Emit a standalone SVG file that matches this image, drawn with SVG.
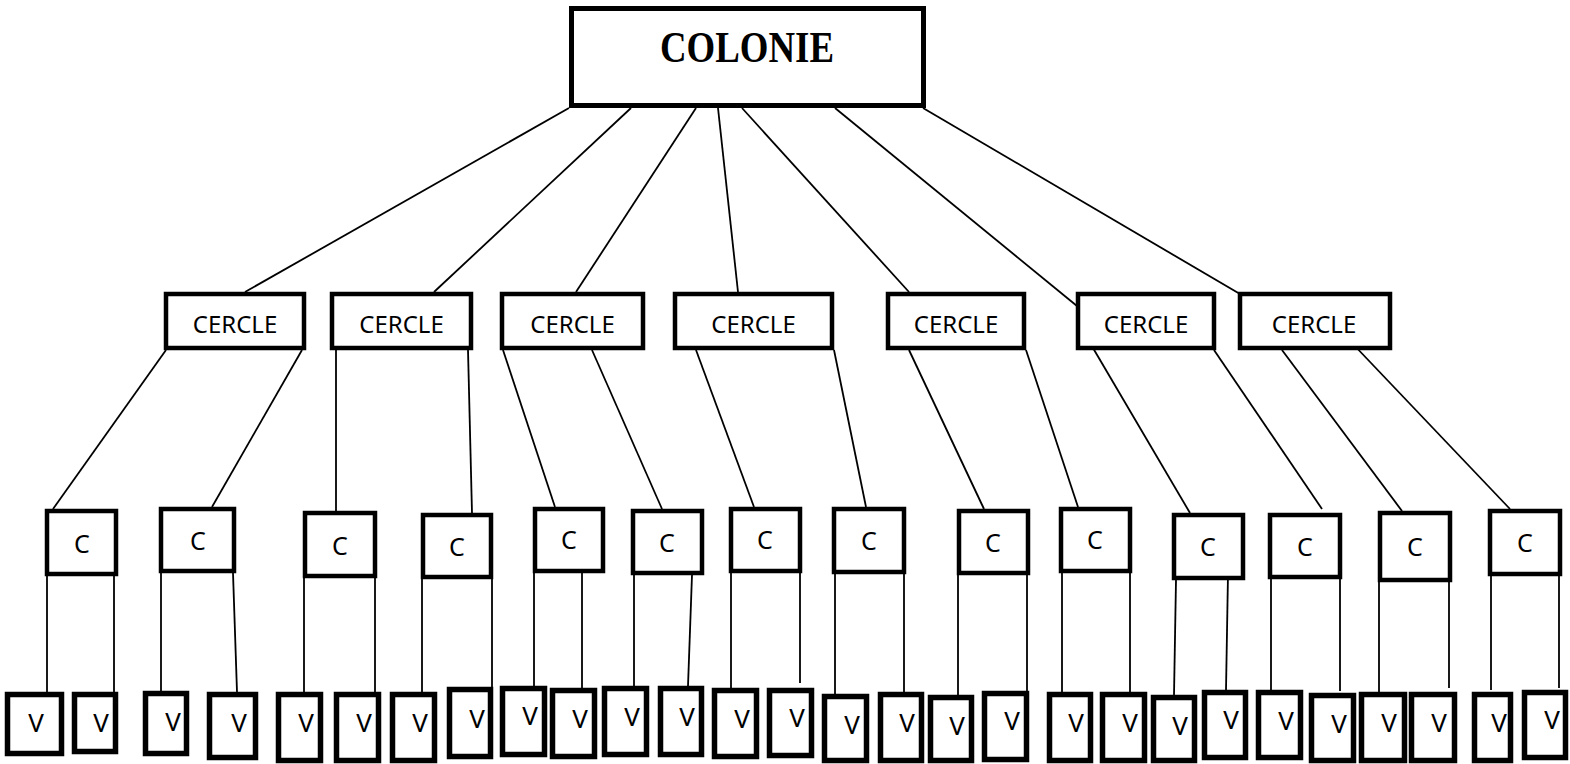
<svg xmlns="http://www.w3.org/2000/svg" width="1570" height="764" viewBox="0 0 1570 764">
<style>
.b{fill:#fff;stroke:#000;stroke-width:4.5}
.vb{fill:#fff;stroke:#000;stroke-width:5.5}
.top{fill:#fff;stroke:#000;stroke-width:5}
.ln{stroke:#000;stroke-width:1.8;fill:none}
.t{font-family:"Noto Sans","Liberation Sans",sans-serif;fill:#000}
.ce{font-size:24px;text-anchor:middle}
.c{font-size:25px;text-anchor:middle}
.v{font-size:26px;text-anchor:middle}
.h{font-family:"Liberation Serif","DejaVu Serif",serif;font-weight:bold;font-size:45px;text-anchor:middle}
</style>
<rect width="1570" height="764" fill="#fff"/>
<g id="connectors" class="ln">
<line x1="569" y1="108" x2="245" y2="292"/>
<line x1="631" y1="108" x2="434" y2="292"/>
<line x1="696" y1="108" x2="576" y2="292"/>
<line x1="718" y1="108" x2="738" y2="292"/>
<line x1="742" y1="108" x2="909" y2="292"/>
<line x1="835" y1="108" x2="1077" y2="306"/>
<line x1="923" y1="108" x2="1240" y2="294"/>
<line x1="166" y1="350" x2="53" y2="509"/>
<line x1="302" y1="350" x2="212" y2="507"/>
<line x1="336" y1="350" x2="336" y2="511"/>
<line x1="468" y1="350" x2="472" y2="513"/>
<line x1="503" y1="350" x2="555" y2="507"/>
<line x1="592" y1="350" x2="662" y2="509"/>
<line x1="696" y1="350" x2="754" y2="507"/>
<line x1="834" y1="350" x2="866" y2="507"/>
<line x1="909" y1="350" x2="984" y2="509"/>
<line x1="1026" y1="350" x2="1078" y2="507"/>
<line x1="1093" y1="348" x2="1190" y2="513"/>
<line x1="1214" y1="350" x2="1322" y2="509"/>
<line x1="1282" y1="350" x2="1402" y2="511"/>
<line x1="1352" y1="343" x2="1510" y2="509"/>
<line x1="47" y1="576" x2="47" y2="692"/>
<line x1="114" y1="576" x2="114" y2="692"/>
<line x1="161" y1="573" x2="161" y2="691"/>
<line x1="233" y1="573" x2="237" y2="692"/>
<line x1="304" y1="578" x2="304" y2="692"/>
<line x1="375" y1="578" x2="375" y2="692"/>
<line x1="422" y1="579" x2="422" y2="692"/>
<line x1="492" y1="579" x2="492" y2="687"/>
<line x1="534" y1="573" x2="534" y2="686"/>
<line x1="582" y1="573" x2="582" y2="688"/>
<line x1="634" y1="575" x2="634" y2="686"/>
<line x1="692" y1="575" x2="688" y2="686"/>
<line x1="731" y1="573" x2="731" y2="688"/>
<line x1="800" y1="573" x2="800" y2="683"/>
<line x1="835" y1="574" x2="835" y2="694"/>
<line x1="904" y1="574" x2="904" y2="692"/>
<line x1="958" y1="575" x2="958" y2="695"/>
<line x1="1027" y1="575" x2="1027" y2="691"/>
<line x1="1062" y1="573" x2="1062" y2="692"/>
<line x1="1130" y1="573" x2="1130" y2="692"/>
<line x1="1176" y1="580" x2="1174" y2="695"/>
<line x1="1228" y1="574" x2="1226" y2="690"/>
<line x1="1271" y1="579" x2="1271" y2="690"/>
<line x1="1340" y1="579" x2="1340" y2="691"/>
<line x1="1379" y1="582" x2="1379" y2="692"/>
<line x1="1449" y1="582" x2="1449" y2="688"/>
<line x1="1491" y1="576" x2="1491" y2="690"/>
<line x1="1559" y1="576" x2="1559" y2="688"/>
</g>
<g id="colonie"><rect class="top" x="571.5" y="8.5" width="352" height="97"/><text class="h" x="747" y="62" textLength="174" lengthAdjust="spacingAndGlyphs">COLONIE</text></g>
<g id="cercle1"><rect class="b" x="166" y="294" width="138" height="54"/><text class="t ce" x="235" y="333">CERCLE</text></g>
<g id="cercle2"><rect class="b" x="332" y="294" width="139" height="54"/><text class="t ce" x="401.5" y="333">CERCLE</text></g>
<g id="cercle3"><rect class="b" x="502" y="294" width="141" height="54"/><text class="t ce" x="572.5" y="333">CERCLE</text></g>
<g id="cercle4"><rect class="b" x="675" y="294" width="157" height="54"/><text class="t ce" x="753.5" y="333">CERCLE</text></g>
<g id="cercle5"><rect class="b" x="888" y="294" width="136" height="54"/><text class="t ce" x="956" y="333">CERCLE</text></g>
<g id="cercle6"><rect class="b" x="1078" y="294" width="136" height="54"/><text class="t ce" x="1146" y="333">CERCLE</text></g>
<g id="cercle7"><rect class="b" x="1240" y="294" width="150" height="54"/><text class="t ce" x="1314" y="333">CERCLE</text></g>
<g id="c1"><rect class="b" x="47" y="511" width="69" height="63"/><text class="t c" x="82" y="553">C</text></g>
<g id="c2"><rect class="b" x="161" y="509" width="73" height="62"/><text class="t c" x="198" y="550">C</text></g>
<g id="c3"><rect class="b" x="305" y="513" width="70" height="63"/><text class="t c" x="340" y="555">C</text></g>
<g id="c4"><rect class="b" x="423" y="515" width="68" height="62"/><text class="t c" x="457" y="556">C</text></g>
<g id="c5"><rect class="b" x="535" y="509" width="68" height="62"/><text class="t c" x="569" y="549">C</text></g>
<g id="c6"><rect class="b" x="633" y="511" width="69" height="62"/><text class="t c" x="667" y="552">C</text></g>
<g id="c7"><rect class="b" x="731" y="509" width="69" height="62"/><text class="t c" x="765" y="549">C</text></g>
<g id="c8"><rect class="b" x="834" y="509" width="70" height="63"/><text class="t c" x="869" y="550">C</text></g>
<g id="c9"><rect class="b" x="959" y="511" width="69" height="62"/><text class="t c" x="993" y="552">C</text></g>
<g id="c10"><rect class="b" x="1061" y="509" width="69" height="62"/><text class="t c" x="1095" y="549">C</text></g>
<g id="c11"><rect class="b" x="1174" y="515" width="69" height="63"/><text class="t c" x="1208" y="556">C</text></g>
<g id="c12"><rect class="b" x="1270" y="515" width="70" height="62"/><text class="t c" x="1305" y="556">C</text></g>
<g id="c13"><rect class="b" x="1380" y="513" width="70" height="67"/><text class="t c" x="1415" y="556">C</text></g>
<g id="c14"><rect class="b" x="1490" y="511" width="70" height="63"/><text class="t c" x="1525" y="552">C</text></g>
<g id="v1"><rect class="vb" x="7.5" y="694.5" width="54" height="59"/><text class="t v" x="36" y="732">V</text></g>
<g id="v2"><rect class="vb" x="74.5" y="694.5" width="41" height="57"/><text class="t v" x="101" y="732">V</text></g>
<g id="v3"><rect class="vb" x="145.5" y="693.5" width="41" height="60"/><text class="t v" x="173" y="731">V</text></g>
<g id="v4"><rect class="vb" x="209.5" y="694.5" width="46" height="63"/><text class="t v" x="239" y="732">V</text></g>
<g id="v5"><rect class="vb" x="278.5" y="694.5" width="42" height="66"/><text class="t v" x="306" y="732">V</text></g>
<g id="v6"><rect class="vb" x="336.5" y="694.5" width="42" height="66"/><text class="t v" x="364" y="732">V</text></g>
<g id="v7"><rect class="vb" x="392.5" y="694.5" width="42" height="66"/><text class="t v" x="420" y="732">V</text></g>
<g id="v8"><rect class="vb" x="449.5" y="689.5" width="41" height="67"/><text class="t v" x="477" y="728">V</text></g>
<g id="v9"><rect class="vb" x="502.5" y="688.5" width="42" height="66"/><text class="t v" x="530" y="725">V</text></g>
<g id="v10"><rect class="vb" x="552.5" y="690.5" width="42" height="66"/><text class="t v" x="580" y="728">V</text></g>
<g id="v11"><rect class="vb" x="604.5" y="688.5" width="42" height="66"/><text class="t v" x="632" y="726">V</text></g>
<g id="v12"><rect class="vb" x="660.5" y="688.5" width="41" height="66"/><text class="t v" x="687" y="726">V</text></g>
<g id="v13"><rect class="vb" x="714.5" y="690.5" width="42" height="66"/><text class="t v" x="742" y="728">V</text></g>
<g id="v14"><rect class="vb" x="769.5" y="690.5" width="42" height="65"/><text class="t v" x="797" y="727">V</text></g>
<g id="v15"><rect class="vb" x="824.5" y="696.5" width="42" height="64"/><text class="t v" x="852" y="734">V</text></g>
<g id="v16"><rect class="vb" x="880.5" y="694.5" width="41" height="66"/><text class="t v" x="907" y="732">V</text></g>
<g id="v17"><rect class="vb" x="930.5" y="697.5" width="41" height="63"/><text class="t v" x="957" y="735">V</text></g>
<g id="v18"><rect class="vb" x="984.5" y="693.5" width="42" height="66"/><text class="t v" x="1012" y="730">V</text></g>
<g id="v19"><rect class="vb" x="1049.5" y="694.5" width="41" height="66"/><text class="t v" x="1076" y="732">V</text></g>
<g id="v20"><rect class="vb" x="1102.5" y="694.5" width="42" height="66"/><text class="t v" x="1130" y="732">V</text></g>
<g id="v21"><rect class="vb" x="1153.5" y="697.5" width="41" height="63"/><text class="t v" x="1180" y="735">V</text></g>
<g id="v22"><rect class="vb" x="1204.5" y="692.5" width="41" height="65"/><text class="t v" x="1231" y="729">V</text></g>
<g id="v23"><rect class="vb" x="1258.5" y="692.5" width="42" height="65"/><text class="t v" x="1286" y="730">V</text></g>
<g id="v24"><rect class="vb" x="1311.5" y="695.5" width="42" height="65"/><text class="t v" x="1339" y="733">V</text></g>
<g id="v25"><rect class="vb" x="1361.5" y="694.5" width="43" height="66"/><text class="t v" x="1389" y="732">V</text></g>
<g id="v26"><rect class="vb" x="1411.5" y="694.5" width="43" height="66"/><text class="t v" x="1439" y="732">V</text></g>
<g id="v27"><rect class="vb" x="1474.5" y="694.5" width="36" height="66"/><text class="t v" x="1499" y="732">V</text></g>
<g id="v28"><rect class="vb" x="1524.5" y="692.5" width="41" height="65"/><text class="t v" x="1552" y="729">V</text></g>
</svg>
